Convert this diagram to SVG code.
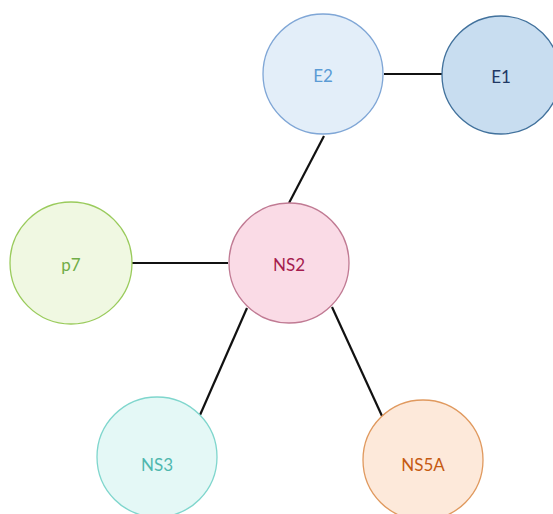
<svg xmlns="http://www.w3.org/2000/svg" width="553" height="514" viewBox="0 0 553 514">
<style>
.n{stroke-width:1.3}
.t{font-family:Lato,"Liberation Sans",sans-serif;font-size:17px;text-anchor:middle;dominant-baseline:central}
.c{stroke:#111;stroke-width:2.2;fill:none}
</style>
<rect width="553" height="514" fill="#fff"/>
<g id="connectors">
<line class="c" x1="384" y1="74" x2="442" y2="74"/>
<line class="c" x1="324" y1="136" x2="289" y2="203"/>
<line class="c" x1="132" y1="263" x2="228" y2="263"/>
<line class="c" x1="247" y1="308" x2="200" y2="415"/>
<line class="c" x1="332" y1="307" x2="382" y2="416"/>
</g>
<g id="E2"><circle class="n" cx="323" cy="74" r="60" fill="#e3eef9" stroke="#7fa6d6"/><text class="t" x="323" y="75" fill="#5b9bd5">E2</text></g>
<g id="E1"><circle class="n" cx="501" cy="75" r="59" fill="#c8ddf0" stroke="#41719c"/><text class="t" x="501" y="76" fill="#1f3864">E1</text></g>
<g id="p7"><circle class="n" cx="71" cy="263" r="61" fill="#f0f8e2" stroke="#9acb5c"/><text class="t" x="71" y="264" fill="#70ad47">p7</text></g>
<g id="NS2"><circle class="n" cx="289" cy="263" r="60" fill="#fadbe6" stroke="#c07a93"/><text class="t" x="289" y="264" fill="#a51c4e">NS2</text></g>
<g id="NS3"><circle class="n" cx="157" cy="457" r="60" fill="#e4f8f6" stroke="#7fd6cd"/><text class="t" x="157" y="464" fill="#4fb7ae">NS3</text></g>
<g id="NS5A"><circle class="n" cx="423" cy="460" r="60" fill="#fde9da" stroke="#e0995e"/><text class="t" x="423" y="464" fill="#c55a11">NS5A</text></g>
</svg>
